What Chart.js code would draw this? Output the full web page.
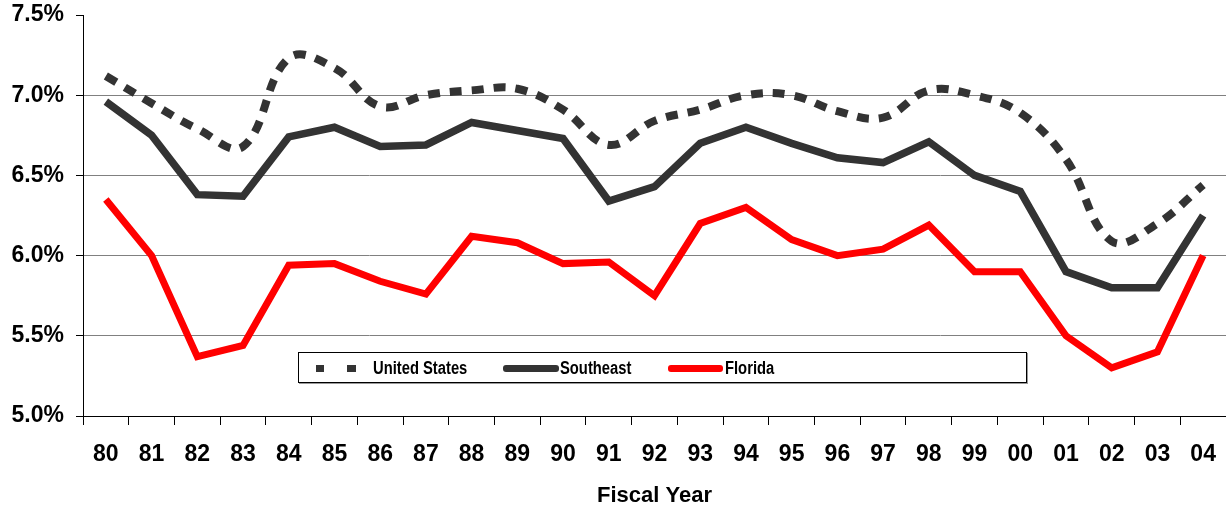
<!DOCTYPE html>
<html>
<head>
<meta charset="utf-8">
<script src="https://cdn.jsdelivr.net/npm/chart.js@4"></script>
<style>
  body { margin: 0; background: #fff; }
  #wrap { position: relative; width: 1226px; height: 509px; }
  #legend {
    position: absolute; left: 298px; top: 352px; width: 727px; height: 29px;
    border: 1px solid #000; background: #fff; box-shadow: 1px 1px 0 #999;
    font: bold 18px "Liberation Sans", Arial, sans-serif;
    color: #000;
  }
  #legend .item {
    position: absolute; top: 0; height: 29px; line-height: 30px; white-space: nowrap;
    transform: scaleX(0.82); transform-origin: left center;
  }
  #legend .swatch { position: absolute; top: 12px; height: 7px; border-radius: 3px; }
</style>
</head>
<body>
<div id="wrap">
  <canvas id="chart" width="1226" height="509"></canvas>
  <div id="legend">
    <span class="swatch" style="left:17px;width:8px;background:#333;border-radius:0"></span>
    <span class="swatch" style="left:48px;width:9px;background:#333;border-radius:0"></span>
    <span class="item" style="left:74px">United States</span>
    <span class="swatch" style="left:204px;width:56px;background:#333"></span>
    <span class="item" style="left:261px">Southeast</span>
    <span class="swatch" style="left:369px;width:55px;background:#ff0000"></span>
    <span class="item" style="left:426px">Florida</span>
  </div>
</div>
<script>
const years = ["80", "81", "82", "83", "84", "85", "86", "87", "88", "89", "90", "91", "92",
  "93", "94", "95", "96", "97", "98", "99", "00", "01", "02", "03", "04"];
const unitedStates = [7.12, 6.95, 6.79, 6.68, 7.23, 7.17, 6.93, 7.0, 7.03, 7.04, 6.91, 6.69, 6.84,
  6.91, 7.0, 7.0, 6.9, 6.86, 7.03, 7.0, 6.89, 6.6, 6.09, 6.2, 6.44];
const southeast = [6.96, 6.75, 6.38, 6.37, 6.74, 6.80, 6.68, 6.69, 6.83, 6.78, 6.73, 6.34, 6.43,
  6.70, 6.80, 6.70, 6.61, 6.58, 6.71, 6.50, 6.40, 5.90, 5.80, 5.80, 6.25];
const florida = [6.35, 6.0, 5.37, 5.44, 5.94, 5.95, 5.84, 5.76, 6.12, 6.08, 5.95, 5.96, 5.75,
  6.20, 6.30, 6.10, 6.0, 6.04, 6.19, 5.90, 5.90, 5.50, 5.30, 5.40, 6.00];
const yTicks = [5.0, 5.5, 6.0, 6.5, 7.0, 7.5];

const font = { family: "'Liberation Sans', Arial, sans-serif", size: 23, weight: "bold" };

new Chart(document.getElementById("chart"), {
  type: "line",
  data: {
    labels: years,
    datasets: [
      {
        label: "United States",
        data: unitedStates,
        borderColor: "#333333",
        borderWidth: 8,
        borderDash: [12, 10],
        tension: 0.4,
        pointRadius: 0,
      },
      {
        label: "Southeast",
        data: southeast,
        borderColor: "#333333",
        borderWidth: 7.5,
        tension: 0,
        pointRadius: 0,
      },
      {
        label: "Florida",
        data: florida,
        borderColor: "#ff0000",
        borderWidth: 7,
        tension: 0,
        pointRadius: 0,
      },
    ],
  },
  options: {
    responsive: false,
    animation: false,
    layout: { padding: { top: 15, right: 0, left: 0, bottom: 0 } },
    plugins: {
      legend: { display: false },
      tooltip: { enabled: false },
    },
    scales: {
      x: {
        offset: true,
        grid: {
          offset: true,
          drawOnChartArea: false,
          tickLength: 9,
          tickColor: "#000",
        },
        border: { color: "#000", width: 1 },
        ticks: { color: "#000", font: font, padding: 16, maxRotation: 0, autoSkip: false },
        title: {
          display: true,
          text: "Fiscal Year",
          color: "#000",
          font: { family: font.family, size: 22, weight: "bold" },
          padding: { top: 10, bottom: 0 },
        },
        afterFit: (s) => {
          s.height = 93;
          s.paddingLeft = 0;
          s.paddingRight = 0;
        },
      },
      y: {
        min: yTicks[0],
        max: yTicks[yTicks.length - 1],
        afterBuildTicks: (s) => { s.ticks = yTicks.map((v) => ({ value: v })); },
        grid: {
          color: (ctx) => (ctx.tick && ctx.tick.value === 7.5 ? "rgba(0,0,0,0)" : "#808080"),
          tickLength: 7,
          tickColor: "#000",
        },
        border: { color: "#000", width: 1 },
        ticks: {
          color: "#000",
          font: font,
          padding: 12,
          callback: (v) => Number(v).toFixed(1) + "%",
        },
        afterFit: (s) => {
          s.width = 83;
          s.paddingTop = 0;
          s.paddingBottom = 0;
        },
      },
    },
  },
});
</script>
</body>
</html>
